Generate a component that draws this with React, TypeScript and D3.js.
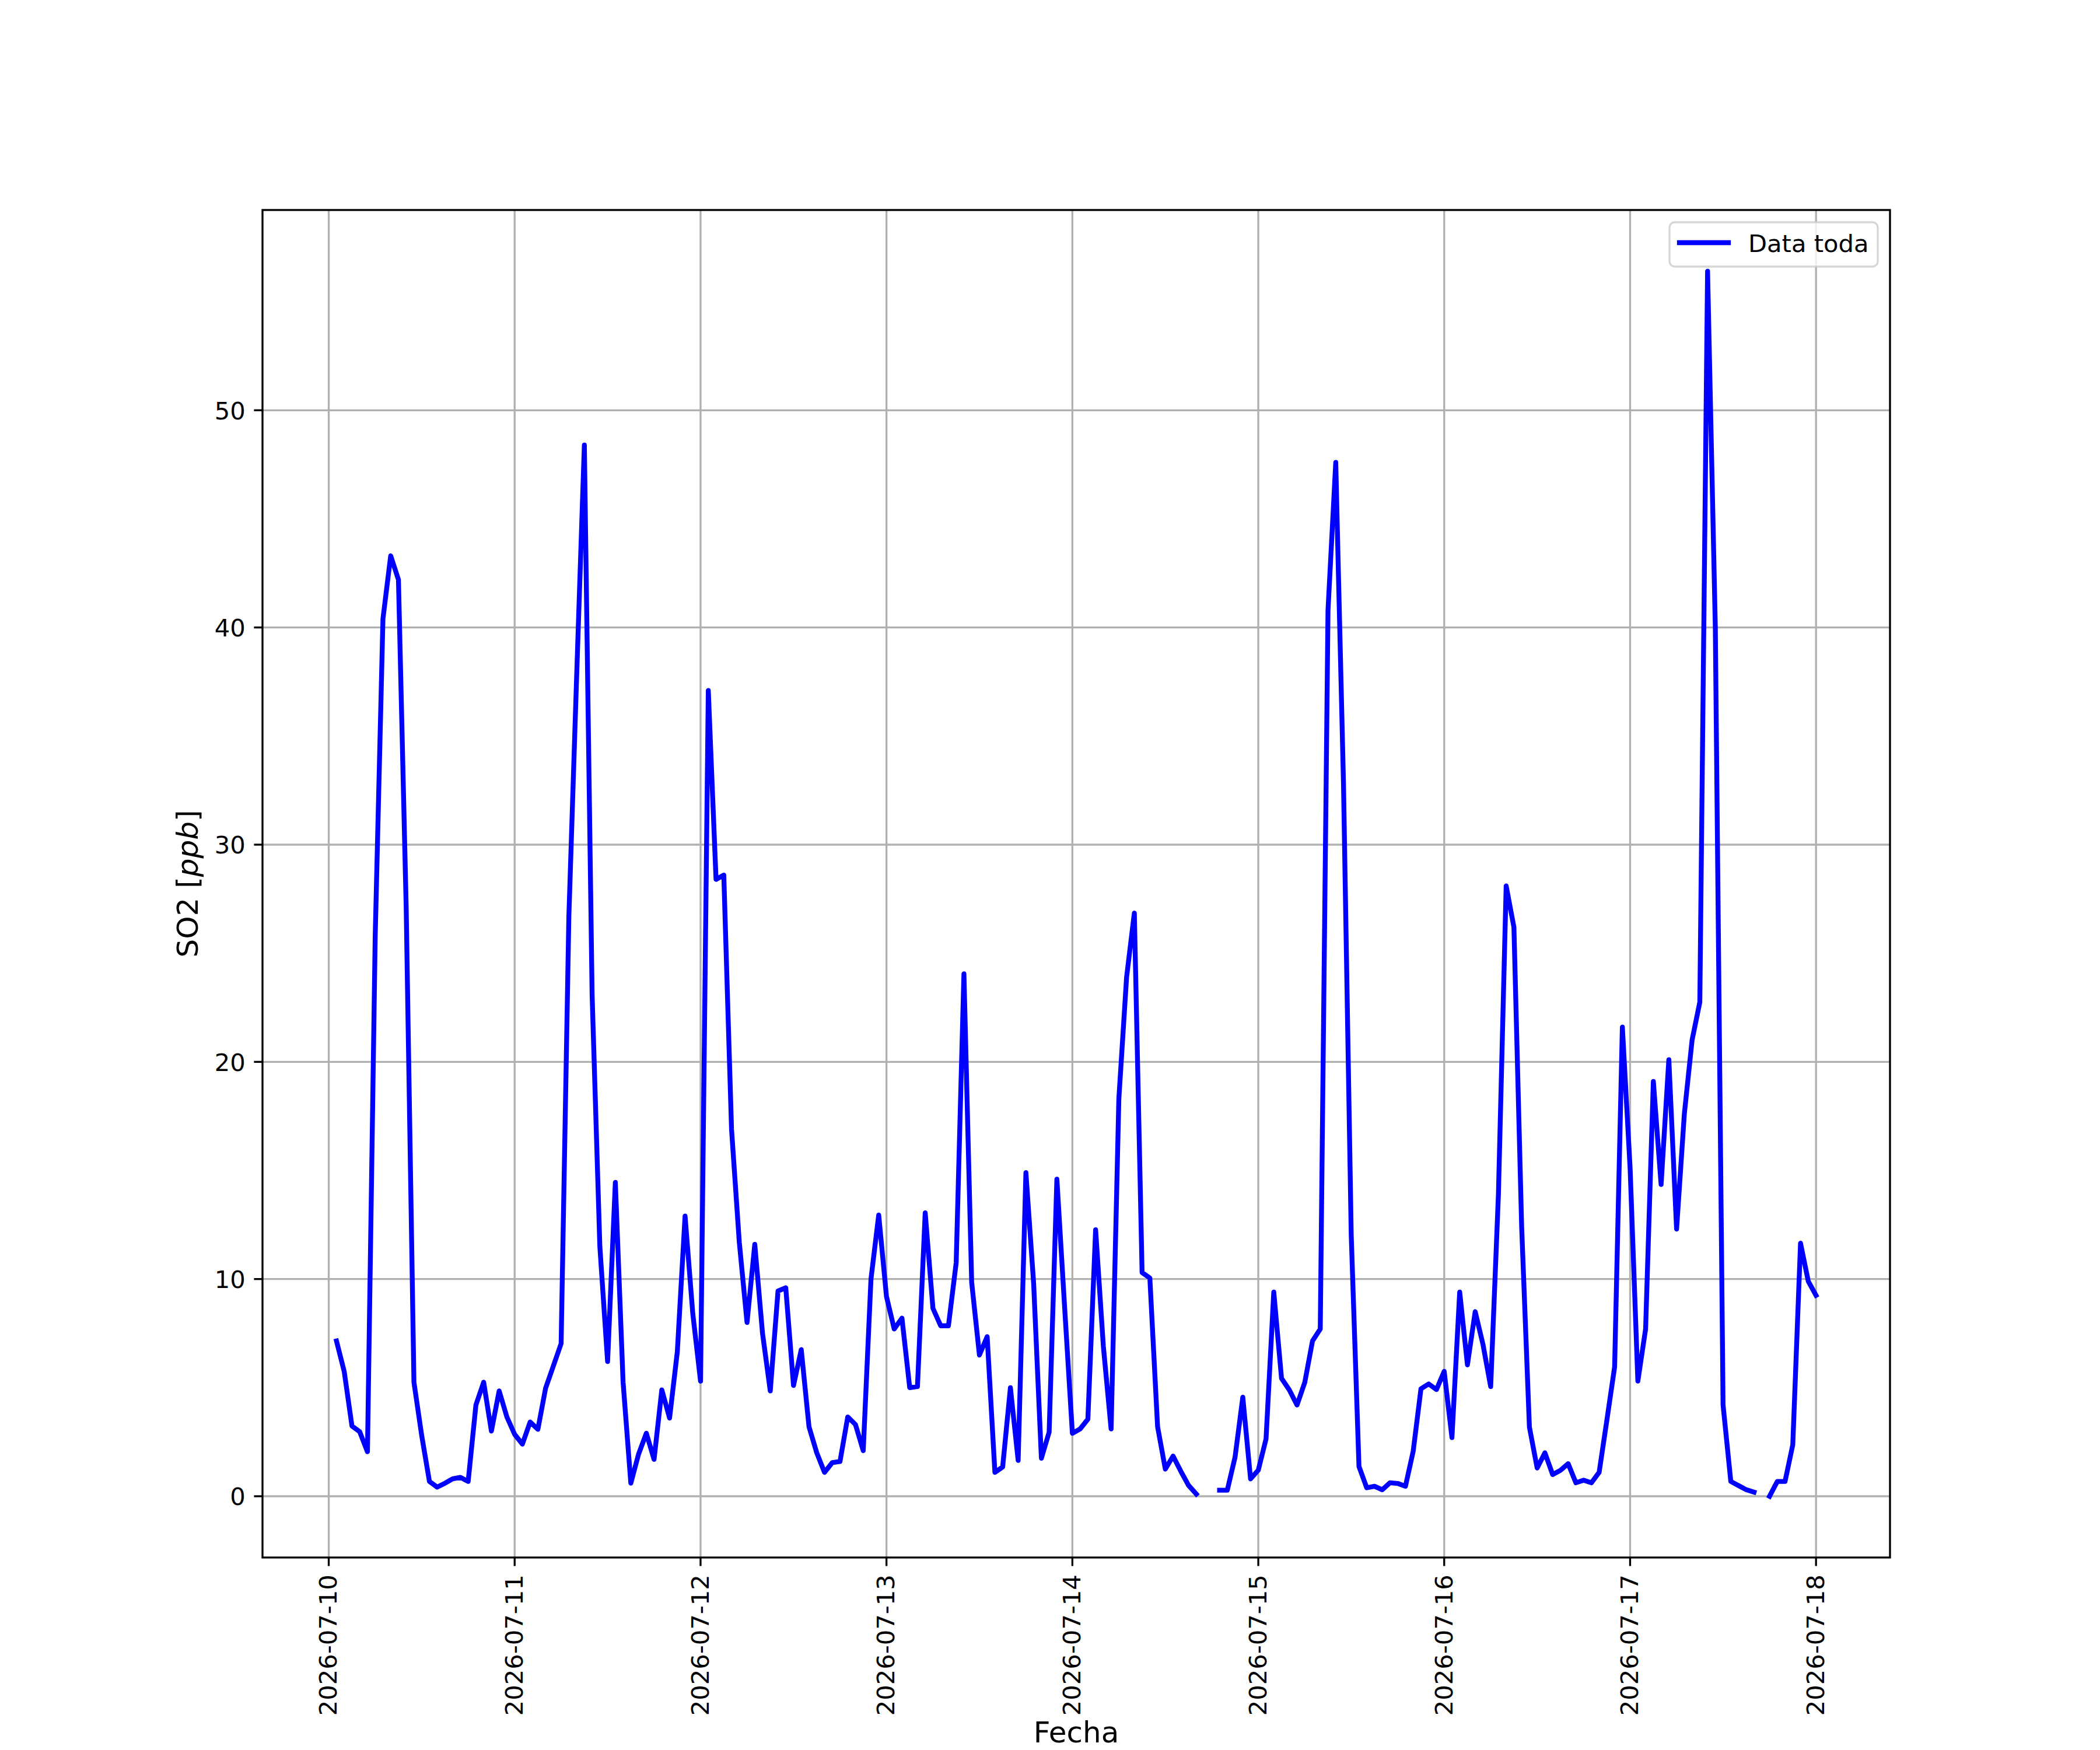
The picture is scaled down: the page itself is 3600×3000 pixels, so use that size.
import { useEffect, useRef } from 'react'
import * as d3 from 'd3'

// hourly SO2 readings (ppb), first reading at 2026-07-10 01:00, nulls are missing hours
const firstReading = '2026-07-10 01:00'
const so2Values: (number | null)[] = [
  // 07-10
  7.15, 5.74, 3.23, 2.97, 2.05, 25.8, 40.4, 43.3, 42.2, 27.1, 5.25, 2.8,
  0.68, 0.42, 0.6, 0.8, 0.87, 0.68, 4.2, 5.25, 3.0, 4.85, 3.65, 2.85,
  // 07-11
  2.4, 3.42, 3.08, 4.98, 6.0, 7.03, 26.7, 37.7, 48.4, 23.1, 11.5, 6.2,
  14.45, 5.25, 0.6, 1.94, 2.9, 1.7, 4.9, 3.6, 6.65, 12.9, 8.4, 5.3,
  // 07-12
  37.1, 28.4, 28.6, 16.9, 11.7, 8.0, 11.6, 7.5, 4.85, 9.45, 9.6, 5.1,
  6.75, 3.2, 2.0, 1.1, 1.55, 1.6, 3.65, 3.3, 2.1, 10.0, 12.95, 9.2,
  // 07-13
  7.7, 8.2, 5.0, 5.05, 13.05, 8.65, 7.85, 7.85, 10.75, 24.05, 9.85, 6.5,
  7.35, 1.1, 1.35, 5.0, 1.65, 14.9, 9.8, 1.75, 2.95, 14.6, 8.7, 2.9,
  // 07-14
  3.1, 3.55, 12.27, 6.9, 3.1, 18.3, 23.9, 26.85, 10.3, 10.05, 3.2, 1.25,
  1.85, 1.15, 0.5, 0.1, null, null, 0.28, 0.28, 1.8, 4.56, 0.8, 1.2,
  // 07-15
  2.64, 9.4, 5.43, 4.9, 4.2, 5.24, 7.15, 7.7, 40.8, 47.6, 32.8, 12.0,
  1.37, 0.39, 0.46, 0.3, 0.62, 0.59, 0.46, 2.08, 4.95, 5.17, 4.91, 5.75,
  // 07-16
  2.7, 9.4, 6.05, 8.5, 7.0, 5.05, 13.9, 28.1, 26.2, 12.4, 3.18, 1.3,
  2.0, 1.0, 1.19, 1.5, 0.62, 0.74, 0.62, 1.1, 3.5, 5.95, 21.6, 15.1,
  // 07-17
  5.3, 7.7, 19.1, 14.35, 20.1, 12.3, 17.6, 21.0, 22.75, 56.4, 40.0, 4.2,
  0.68, 0.49, 0.3, 0.19, null, 0.0, 0.68, 0.68, 2.37, 11.65, 9.9, 9.25,
]

const dayTicks = [
  '2026-07-10', '2026-07-11', '2026-07-12', '2026-07-13', '2026-07-14',
  '2026-07-15', '2026-07-16', '2026-07-17', '2026-07-18',
]
const yTicks = [0, 10, 20, 30, 40, 50]
const seriesLabel = 'Data toda'
const xLabel = 'Fecha'

const W = 3600
const H = 3000
const FONT = 'DejaVu Sans, Verdana, sans-serif'
const PT = 300 / 72 // figure was saved at 300 dpi

export default function App() {
  const svgRef = useRef<SVGSVGElement | null>(null)

  useEffect(() => {
    if (!svgRef.current) return

    const left = 450
    const right = 3240
    const top = 360
    const bottom = 2670

    const svg = d3.select(svgRef.current)
    svg.selectAll('*').remove()

    svg.append('rect').attr('width', W).attr('height', H).attr('fill', '#ffffff')

    const start = d3.timeParse('%Y-%m-%d %H:%M')(firstReading) as Date
    const parseDay = d3.timeParse('%Y-%m-%d')
    const points = so2Values.map((v, i) => ({ t: d3.timeHour.offset(start, i), v }))

    // matplotlib style 5% margins
    const [t0, t1] = d3.extent(points, d => d.t) as [Date, Date]
    const span = +t1 - +t0
    const x = d3
      .scaleTime()
      .domain([new Date(+t0 - 0.05 * span), new Date(+t1 + 0.05 * span)])
      .range([left, right])

    const valid = points.filter(d => d.v != null).map(d => d.v as number)
    const vMin = d3.min(valid) ?? 0
    const vMax = d3.max(valid) ?? 1
    const vPad = (vMax - vMin) * 0.05
    const y = d3
      .scaleLinear()
      .domain([vMin - vPad, vMax + vPad])
      .range([bottom, top])

    const tickDates = dayTicks.map(s => parseDay(s) as Date)

    // grid
    const grid = svg.append('g').attr('stroke', '#b0b0b0').attr('stroke-width', 0.8 * PT)
    grid
      .selectAll('.vgrid')
      .data(tickDates)
      .join('line')
      .attr('x1', d => x(d))
      .attr('x2', d => x(d))
      .attr('y1', top)
      .attr('y2', bottom)
    grid
      .selectAll('.hgrid')
      .data(yTicks)
      .join('line')
      .attr('x1', left)
      .attr('x2', right)
      .attr('y1', d => y(d))
      .attr('y2', d => y(d))

    // series
    const line = d3
      .line<{ t: Date; v: number | null }>()
      .defined(d => d.v != null)
      .x(d => x(d.t))
      .y(d => y(d.v as number))

    svg
      .append('path')
      .datum(points)
      .attr('d', line)
      .attr('fill', 'none')
      .attr('stroke', '#0000ff')
      .attr('stroke-width', 2 * PT)
      .attr('stroke-linejoin', 'round')
      .attr('stroke-linecap', 'square')

    // spines
    svg
      .append('rect')
      .attr('x', left)
      .attr('y', top)
      .attr('width', right - left)
      .attr('height', bottom - top)
      .attr('fill', 'none')
      .attr('stroke', '#000000')
      .attr('stroke-width', 0.8 * PT)

    const tickLen = 3.5 * PT
    const tickPad = 3.5 * PT
    const tickFont = 10 * PT

    // x ticks
    const xt = svg.append('g')
    xt.selectAll('line')
      .data(tickDates)
      .join('line')
      .attr('x1', d => x(d))
      .attr('x2', d => x(d))
      .attr('y1', bottom)
      .attr('y2', bottom + tickLen)
      .attr('stroke', '#000000')
      .attr('stroke-width', 0.8 * PT)
    xt.selectAll('text')
      .data(dayTicks)
      .join('text')
      .attr('transform', (d, i) => `translate(${x(tickDates[i])},${bottom + tickLen + tickPad}) rotate(-90)`)
      .attr('text-anchor', 'end')
      .attr('dy', '0.33em')
      .attr('font-family', FONT)
      .attr('font-size', tickFont)
      .text(d => d)

    // y ticks
    const yt = svg.append('g')
    yt.selectAll('line')
      .data(yTicks)
      .join('line')
      .attr('x1', left - tickLen)
      .attr('x2', left)
      .attr('y1', d => y(d))
      .attr('y2', d => y(d))
      .attr('stroke', '#000000')
      .attr('stroke-width', 0.8 * PT)
    yt.selectAll('text')
      .data(yTicks)
      .join('text')
      .attr('x', left - tickLen - tickPad)
      .attr('y', d => y(d))
      .attr('dy', '0.365em')
      .attr('text-anchor', 'end')
      .attr('font-family', FONT)
      .attr('font-size', tickFont)
      .text(d => String(d))

    // axis labels
    svg
      .append('text')
      .attr('x', (left + right) / 2)
      .attr('y', 2987)
      .attr('text-anchor', 'middle')
      .attr('font-family', FONT)
      .attr('font-size', 12 * PT)
      .text(xLabel)

    const yl = svg
      .append('text')
      .attr('transform', `translate(339,${(top + bottom) / 2}) rotate(-90)`)
      .attr('text-anchor', 'middle')
      .attr('font-family', FONT)
      .attr('font-size', 12 * PT)
    yl.append('tspan').text('SO2 [')
    yl.append('tspan').attr('font-style', 'italic').text('ppb')
    yl.append('tspan').text(']')

    // legend
    const lg = svg.append('g')
    lg.append('rect')
      .attr('x', 2862)
      .attr('y', 381)
      .attr('width', 357)
      .attr('height', 76)
      .attr('rx', 9)
      .attr('fill', '#ffffff')
      .attr('fill-opacity', 0.8)
      .attr('stroke', '#cccccc')
      .attr('stroke-opacity', 0.8)
      .attr('stroke-width', 0.8 * PT)
    lg.append('line')
      .attr('x1', 2879)
      .attr('x2', 2963)
      .attr('y1', 416)
      .attr('y2', 416)
      .attr('stroke', '#0000ff')
      .attr('stroke-width', 2 * PT)
      .attr('stroke-linecap', 'square')
    lg.append('text')
      .attr('x', 2997)
      .attr('y', 432)
      .attr('font-family', FONT)
      .attr('font-size', tickFont)
      .text(seriesLabel)
  }, [])

  return (
    <div style={{ position: 'absolute', left: 0, top: 0 }}>
      <svg ref={svgRef} width={W} height={H} />
    </div>
  )
}
